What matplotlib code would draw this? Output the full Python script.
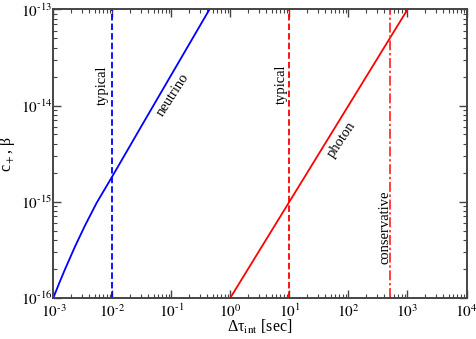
import matplotlib
matplotlib.use("Agg")
import matplotlib.pyplot as plt
from matplotlib.ticker import FuncFormatter

plt.rcParams["font.family"] = ["Liberation Serif", "DejaVu Serif"]
plt.rcParams["mathtext.fontset"] = "stix"

# valores
neutrino_x = [1e-3, 1.25e-3, 1.57e-3, 2.31e-3, 3.42e-3, 5.4e-3, 1e-2, 3e-2, 0.1, 0.44]
neutrino_y = [1e-16, 1.41e-16, 1.97e-16, 3.38e-16, 5.62e-16, 9.7e-16, 1.84e-15, 5.9e-15, 2.1e-14, 1e-13]
photon_x = [1.0, 1e3]
photon_y = [1e-16, 1e-13]
typical_nu = 1e-2
typical_ph = 10
conservative_ph = 500

fig = plt.figure(figsize=(4.77, 3.39), dpi=100)
ax = fig.add_axes([0.112, 0.122, 0.866, 0.850])

ax.plot(neutrino_x, neutrino_y, color="#0000ff", lw=1.3)
ax.plot(photon_x, photon_y, color="#ff0000", lw=1.3)
ax.axvline(typical_nu, color="#0000ff", lw=1.3, ls=(0, (3.6, 1.7)))
ax.axvline(typical_ph, color="#ff0000", lw=1.3, ls=(0, (3.6, 1.7)))
ax.axvline(conservative_ph, color="#ff3030", lw=1.3, ls=(0, (5.5, 1.5, 1.3, 1.5)))

ax.set_xscale("log")
ax.set_yscale("log")
ax.set_xlim(1e-3, 1e4)
ax.set_ylim(1e-16, 1e-13)

fs = 10.5
ax.text(6.8e-3, 1.63e-14, "typical", rotation=90, ha="center", va="center", fontsize=fs)
ax.text(0.108, 1.29e-14, "neutrino", rotation=57, ha="center", va="center", fontsize=fs)
ax.text(7.2, 1.67e-14, "typical", rotation=90, ha="center", va="center", fontsize=fs)
ax.text(76.7, 4.38e-15, "photon", rotation=56, ha="center", va="center", fontsize=fs)
ax.text(416, 5.37e-16, "conservative", rotation=90, ha="center", va="center", fontsize=fs)

# rotulos 10^n com hifen curto, como no original
def fmt(v, pos):
    import math
    e = int(round(math.log10(v)))
    s = str(e).replace("-", "\u2010")
    return "$10^{" + s + "}$"

ax.xaxis.set_major_formatter(FuncFormatter(fmt))
ax.yaxis.set_major_formatter(FuncFormatter(fmt))

ax.set_xlabel("Δτ$_{\\rm int}$ [sec]", fontsize=11.5)
ax.set_ylabel("c$_+$, β", fontsize=11.5)
ax.xaxis.set_label_coords(0.5, -0.072)
ax.yaxis.set_label_coords(-0.088, 0.5)

for s in ax.spines.values():
    s.set_color("#444444")
    s.set_linewidth(1.4)
ax.tick_params(which="both", direction="in", top=True, right=True, color="#444444", labelsize=11)
ax.tick_params(axis="y", which="major", pad=1)
ax.tick_params(axis="x", which="major", pad=4)
ax.tick_params(which="major", length=6, width=1.0)
ax.tick_params(which="minor", length=3, width=0.8)

fig.savefig("out.png", dpi=100)
